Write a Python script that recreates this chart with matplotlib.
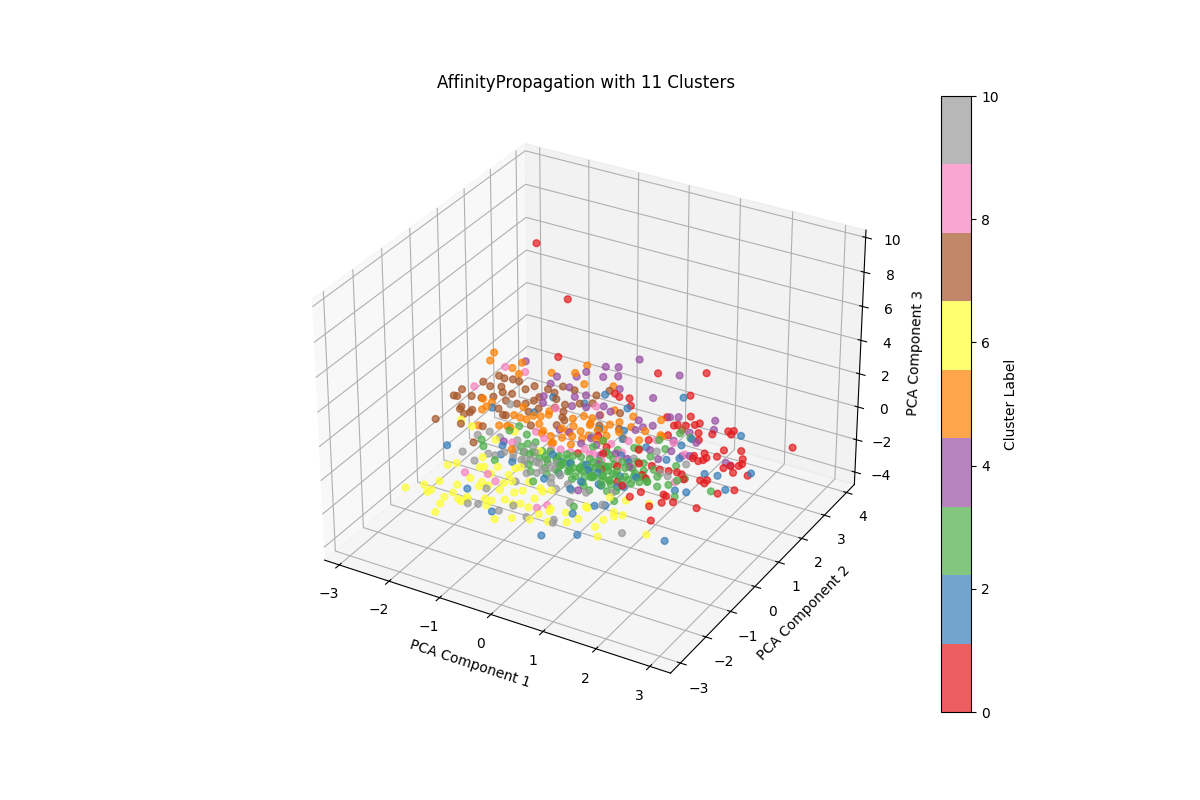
import matplotlib
matplotlib.use("Agg")
import matplotlib.pyplot as plt
import numpy as np

# Each cluster: (PCA 1, PCA 2, PCA 3)
red = [(-1.47,1.26,9.5),(-1.03,1.59,6.2),(-1.98,3.06,.1),(-.06,.05,-.1),(.37,.17,.1),(-.02,.77,0),(.26,.53,-.1),(-.16,3.49,.1),(.55,4.05,0),
(-.22,2.43,-.1),(.71,3.02,.1),(-.49,2.39,0),(-.34,2.26,.1),(-.07,2.18,-.1),(.69,2.09,0),(1.06,2.29,.1),(1.25,2.26,-.1),(.93,1.87,0),(1.0,1.87,.1),
(1.08,2.04,-.1),(1.23,2.1,0),(1.44,1.8,.1),(1.53,1.62,0),(1.8,2.27,-.1),(1.93,2.22,.1),(1.92,2.13,0),(1.61,2.01,-.1),(3.05,2.23,.1),(2.06,1.52,0),
(2.03,1.3,-.1),(2.35,1.61,.1),(2.47,1.41,0),(2.49,1.2,-.1),(2.56,1.18,.1),(2.4,1.06,0),(2.51,.92,-.1),(2.35,.87,.1),(2.79,.91,0),(1.68,1.1,-.1),
(1.85,1.17,.1),(1.92,1.1,0),(1.88,1.05,-.1),(1.75,.9,.1),(1.85,.91,0),(1.69,.39,-.1),(1.84,.26,.1),(1.92,.17,0),(2.15,.35,-.1),(2.3,.31,.1),
(2.28,.24,0),(2.6,.09,-.1),(2.84,.25,.1),(1.5,-.65,0),(1.9,-.49,-.1),(1.89,-.57,.1),(1.96,-.79,0),(1.81,-.97,-.1),(2.14,-.72,.1),(2.54,-.63,0),
(2.05,-1.4,-.1),(1.44,-.96,.1),(.79,1.13,0),(.97,1.54,-.1),(.83,.65,.1),(1.25,-.09,0),(1.33,-.11,-.1),(1.16,-.68,.1),
(.75,-.05,0),(1.05,.2,.1),(.55,-.25,-.1),(1.25,.3,0),(1.45,.2,.1),(1.55,.35,-.1),(1.0,-.55,0)]
blue = [(-2.06,-1.08,.1),(-2.09,.67,0),(-1.41,.99,-.1),(-1.33,1.58,.1),(-.78,1.74,0),(-.65,2.31,-.1),(-.1,.96,.1),(-1.05,-2.21,0),(-.35,-2.63,-.1),
(-.82,-.98,.1),(-1.27,-.49,0),(-1.17,-.74,-.1),(-.08,-1.21,.1),(.02,-.84,0),(-.17,-.41,-.1),(.05,-.47,.1),(.39,-.45,0),(.74,-.75,-.1),(.46,-1.28,.1),
(.86,-1.98,0),(.73,-2.89,-.1),(1.28,-2.64,.1),(1.05,-1.53,0),(1.17,-1.36,-.1),(.64,2.88,.1),(-.05,2.0,0),(2.06,2.24,-.1),(.3,1.14,.1),(.39,.91,0),
(1.33,1.33,-.1),(1.44,1.53,.1),(.87,.86,0),(1.34,.7,-.1),(1.56,.76,.1),(2.14,.55,0),(2.33,.67,-.1),(2.83,.96,.1),(2.68,.23,0),(2.13,-.17,-.1),
(1.99,-.33,.1),(2.57,-1.95,0),(1.06,-.67,-.1),(1.23,-.28,.1),(.63,.35,0),(.8,-.78,-.1),
(.6,-.5,.1),(.95,-.35,0),(.25,-.25,-.1),(-.35,-.35,.1),(.85,.2,0),(1.15,-.6,-.1),(.5,-.95,.1)]
green = [(-1.65,-.56,.1),(-1.54,-.7,0),(-1.16,-.99,-.1),(-1.4,.02,.1),(-1.1,.11,0),(-1.0,-.29,-.1),(-.9,-.24,.1),(-.84,-.06,0),(-.73,-.36,-.1),
(-.56,-.34,.1),(-.47,-.21,0),(-.29,-.23,-.1),(-.15,-.2,.1),(-.06,-.13,0),(.2,-.26,-.1),(.49,-.34,.1),(.6,-.18,0),(-.59,-.8,-.1),(-.49,-.6,.1),
(-.42,-1.06,0),(-.17,-.94,-.1),(-.06,-.65,.1),(.14,-.66,0),(.2,-.39,-.1),(.26,-.13,.1),(-.22,-1.35,0),(.48,-.85,-.1),(.6,-.7,.1),(.73,-1.09,0),
(.74,-1.7,-.1),(-1.33,.26,.1),(.13,.66,0),(.66,-.43,-.1),(-.35,-.57,.1),(-.09,-.45,0),(2.47,.1,-.1),(1.17,1.61,.1),(1.37,1.61,0),(.47,.55,-.1),
(.73,.67,.1),(.78,.75,0),(.34,.37,-.1),(.11,.3,.1),(.53,-.16,0),(.78,-.28,-.1),(.78,.09,.1),(1.01,.03,0),(1.1,-.05,-.1),(1.11,.54,.1),(1.34,.19,0),
(1.2,-.42,-.1),(1.46,-.32,.1),(1.65,-.32,0),(1.76,-.1,-.1),(1.87,.01,.1),(1.93,.2,0),(2.03,-.42,-.1),(.56,-.36,.1),(.87,-.59,0),(1.23,-1.14,-.1),
(.97,1.18,.1),(1.18,.99,0),(1.58,.59,-.1),(.57,-.71,.1),(1.09,.31,0),
(-.3,-.3,-.1),(-.2,-.5,.1),(-.1,-.3,0),(.05,-.5,-.1),(.1,-.15,.1),(.25,-.5,0),(.35,-.3,-.1),(.35,-.6,.1),(.4,-.05,0),(.5,-.55,-.1),(.65,-.2,.1),
(.7,-.5,0),(.8,-.15,-.1),(.9,-.4,.1),(.95,-.7,0),(1.0,-.25,-.1),(1.05,-.5,.1),(1.15,-.2,0),(1.3,-.1,-.1),(1.35,-.4,.1),(1.5,0.0,0),(.9,.15,-.1),
(.6,.1,.1),(.45,.25,0),(.95,.35,-.1),(-.7,-.55,.1),(-.85,-.5,0),(-.3,-.75,-.1),(.0,-.85,.1),(.3,-.9,0),(.55,-.95,-.1),(.85,-.85,.1),(1.0,-.95,0),
(-.5,-.35,-.1),(.15,-.75,.1),
(.02,-.38,0),(.17,-.58,.1),(.42,-.44,-.1),(.58,-.6,0),(.72,-.33,.1),(.83,-.52,-.1),(1.12,-.38,0),(1.26,-.25,.1),(1.4,-.2,-.1),(.68,-.02,0),(.92,-.08,.1),
(1.18,.12,-.1),(.33,-.15,0),(-.05,-.6,.1),(.28,-.72,-.1),(.45,-.72,0),(.78,-.72,.1),(1.1,-.8,-.1)]
purple = [(-2.4,2.57,.1),(-1.67,2.4,0),(-1.4,2.66,-.1),(-1.28,2.81,.1),(-.96,2.86,0),(-1.13,3.31,-.1),(-1.61,2.03,.1),(-1.29,2.15,0),(-1.07,1.93,-.1),
(-.87,1.98,.1),(-1.41,1.34,0),(-.95,1.58,-.1),(-.66,1.57,.1),(-.35,1.48,0),(-1.35,-.29,-.1),(-.48,.55,.1),(-.09,.62,0),(.41,-.11,-.1),(.6,-1.25,.1),
(-1.52,1.58,0),(-.74,3.92,-.1),(-.87,3.31,.1),(-.74,3.03,0),(.15,3.75,-.1),(-.47,2.54,.1),(.16,2.62,0),(-.47,1.89,-.1),(-.22,1.66,.1),(.32,1.7,0),
(.59,1.71,-.1),(.76,2.06,.1),(.86,2.21,0),(1.25,1.84,-.1),(1.49,2.39,.1),(1.59,2.12,0),(1.14,1.41,-.1),(1.56,1.45,.1),(1.3,.98,0),(1.51,.97,-.1),
(1.67,.94,.1),(2.28,1.12,0),(2.36,1.14,-.1),(1.26,.53,.1),(.43,1.34,0),(.47,1.56,-.1),(.96,0.0,.1),
(.1,.45,0),(.3,.2,-.1),(.55,.3,.1),(-.15,.35,0),(.75,.35,-.1),(1.0,.75,.1),(-.7,.6,0)]
orange = [(-3.05,2.56,.1),(-2.99,2.29,0),(-2.54,2.31,-.1),(-2.43,2.48,.1),(-2.3,2.11,0),(-1.85,2.54,-.1),(-1.43,2.66,.1),(-1.41,3.11,0),(-1.15,2.47,-.1),
(-2.36,.83,.1),(-2.19,.85,0),(-2.24,.56,-.1),(-2.17,.6,.1),(-1.63,1.0,0),(-2.01,-.01,-.1),(-1.6,.58,.1),(-1.49,.61,0),(-1.4,.67,-.1),(-1.3,.75,.1),
(-1.21,.86,0),(-1.2,1.18,-.1),(-1.09,.94,.1),(-1.67,.14,0),(-1.57,.26,-.1),(-1.44,.13,.1),(-1.1,.59,0),(-.62,.12,-.1),(-.66,.61,.1),(-.55,.62,0),
(-.72,1.16,-.1),(-.54,1.24,.1),(-.41,1.31,0),(-.39,.81,-.1),(-.32,1.06,.1),(-.22,.53,0),(-.31,.27,-.1),(-1.04,-.58,.1),(-.57,.09,0),(-.67,2.69,-.1),
(.2,1.72,.1),(.65,1.93,0),(.29,1.45,-.1),(.09,1.39,.1),(-.21,1.81,0),(-.37,1.55,-.1),(.62,1.34,.1),(.65,1.03,0),(.86,1.47,-.1),(.96,1.32,.1),(.4,.93,0),
(.07,.91,-.1),(-.01,1.21,.1),
(-.9,.3,0),(-.75,.35,-.1),(-.5,.3,.1),(-.4,.5,0),(-.2,.75,-.1),(-.1,.9,.1),(.0,.65,0),(.1,.7,-.1),(.25,1.05,.1),(-.55,.85,0),(-.95,.45,-.1),(-.3,1.0,.1),(-.05,1.05,0)]
yellow = [(-1.93,-2.82,.1),(-1.74,-2.5,0),(-1.6,-2.64,-.1),(-1.52,-2.64,.1),(-1.58,-2.24,0),(-1.77,-1.6,-.1),(-1.61,-1.56,.1),(-1.12,-3.23,0),(-1.22,-2.88,-.1),
(-1.21,-2.74,.1),(-1.19,-2.47,0),(-1.29,-2.13,-.1),(-.98,-2.67,.1),(-.93,-2.66,0),(-.94,-2.42,-.1),(-1.16,-1.9,.1),(-.87,-2.55,0),(-.98,-1.81,-.1),(-.89,-2.08,.1),
(-.8,-1.91,0),(-.59,-1.88,-.1),(-.59,-1.73,.1),(-1.36,-1.06,0),(-1.26,-1.36,-.1),(-2.03,-.21,.1),(-2.34,-.04,0),(-.99,-1.46,-.1),(-.95,-1.28,.1),(-.63,-2.35,0),
(-.53,-2.3,-.1),(-.47,-2.6,.1),(-.33,-2.19,0),(-.34,-1.83,-.1),(-.19,-1.8,.1),(-.15,-2.25,0),(-.07,-2.12,-.1),(.16,-2.26,.1),(-.16,-2.89,0),(.04,-2.64,-.1),(.37,-2.62,.1),
(.39,-2.32,0),(.05,-1.82,-.1),(.11,-1.63,.1),(.19,-1.46,0),(.44,-1.98,-.1),(.52,-2.18,.1),(.64,-2.46,0),(.72,-1.96,-.1),(.94,-2.36,.1),(1.02,-2.09,0),(.91,-1.58,-.1),
(1.01,-1.72,.1),(1.38,-2.17,0),(1.54,-2.4,-.1),(1.42,-1.93,.1),(-.68,-1.38,0),(-.72,-1.05,-.1),(-.61,-1.07,.1),(-1.47,-.37,0),(-1.36,.14,-.1),(-.6,-.37,.1),(1.42,-1.54,0),
(1.57,-1.5,-.1),(1.52,-1.73,.1),(2.22,-1.93,0),(1.39,-1.01,-.1),(1.16,-1.17,.1),(1.8,-.95,0),
(-.3,-1.35,-.1),(-.5,-1.6,.1),(.0,-1.5,0),(-1.2,-1.3,-.1)]
brown = [(-2.7,-.33,.1),(-2.89,.7,0),(-2.86,.77,-.1),(-2.85,.94,.1),(-2.61,.86,0),(-2.6,.45,-.1),(-2.52,.25,.1),(-2.4,.18,0),(-2.37,.35,-.1),(-2.32,.34,.1),(-2.27,-.18,0),
(-2.73,1.53,-.1),(-2.48,1.33,.1),(-2.43,.9,0),(-2.6,1.9,-.1),(-2.41,1.75,.1),(-2.33,1.48,0),(-2.24,1.36,-.1),(-2.26,1.8,.1),(-2.16,1.85,0),(-2.07,1.4,-.1),(-2.24,1.0,.1),
(-2.01,1.05,0),(-1.82,1.11,-.1),(-1.89,1.58,.1),(-1.84,1.84,0),(-1.6,1.56,-.1),(-1.55,1.81,.1),(-1.42,1.81,0),(-1.43,2.17,-.1),(-1.13,2.04,.1),(-.74,2.14,0),(-1.69,1.2,-.1),
(-1.56,1.27,.1),(-1.98,.7,0),(-1.83,.59,-.1),(-1.72,.49,.1),(-1.9,-.05,0),(-1.78,-.62,-.1),(-1.17,.4,.1),(-.79,.96,0),(-.98,1.3,-.1),(-.82,1.63,.1),(-.82,.72,0),(-.65,2.49,-.1),
(-.63,1.77,.1),(-.08,1.76,0),(-.21,1.19,-.1),(.2,1.15,.1),(1.12,1.8,0),
(-1.5,.95,-.1),(-1.35,1.05,.1),(-1.05,1.5,0),(-.9,1.1,-.1),(-1.25,1.55,.1),(-1.15,1.3,0)]
pink = [(-2.61,2.16,.1),(-2.24,2.24,0),(-2.78,1.28,-.1),(-1.1,1.23,.1),(-.55,1.75,0),(-1.04,.35,-.1),(-1.15,-.35,.1),(-.49,-.14,0),(-.19,.02,-.1),(.18,.03,.1),(-1.36,-1.72,0),
(-1.03,-1.5,-.1),(-.74,-1.76,.1),(.26,-2.14,0),(.34,-1.91,-.1),(.54,.84,.1),(.3,.63,0),(.88,1.26,-.1),(1.23,1.22,.1),(1.55,1.0,0),(1.81,.05,-.1),(.23,.07,.1),
(.0,.2,0),(.4,.05,-.1),(.7,.1,.1),(-.35,-.05,0),(.95,.1,-.1),(-.75,.1,.1),(.6,.45,0)]
gray = [(-1.85,.91,.1),(-1.7,-.16,0),(-1.48,-.19,-.1),(-1.79,-.44,.1),(-1.75,-1.08,0),(-1.45,-1.2,-.1),(-1.31,-.95,.1),(-1.21,-.88,0),(-1.17,-.12,-.1),(-.81,-.53,.1),(-.75,-.77,0),
(-.64,-.62,-.1),(-.41,-.76,.1),(-.2,-.75,0),(-.5,-1.47,-.1),(-.28,-1.1,.1),(-.8,-2.66,0),(-.67,-2.53,-.1),(-.21,-2.64,.1),(-.11,-2.3,0),(.23,-2.47,-.1),(.75,-2.5,.1),(.69,-2.35,0),
(.62,-1.61,-.1),(1.17,-1.47,.1),(-.78,-2.02,0),(.2,-1.31,-.1),(.75,-1.25,.1),(-.8,-.23,0),(-1.06,-.4,-.1),(.09,-1.28,.1),(1.1,-.94,0),(1.83,-2.06,-.1),(1.12,.77,.1),(1.64,.12,0),
(1.7,.74,-.1),(1.51,.09,.1),(.87,.37,0),(-.14,.75,-.1),
(-.6,-.95,.1),(-.5,-.7,0),(-.35,-.55,-.1),(-.25,-.95,.1),(-.1,-.75,0),(-.05,-1.0,-.1),(.1,-.95,.1),(-.9,-.8,0),(-1.0,-.6,-.1),(-.65,-.45,.1),(-.45,-1.15,0),(.3,-1.05,-.1),(-.15,-.6,.1),
(-.7,-.75,0),(.45,-1.2,-.1),(-1.1,-.75,.1)]

clusters = [(0,red),(2,blue),(3,green),(4,purple),(5,orange),(6,yellow),(7,brown),(8,pink),(10,gray)]
pts = np.array([p for _, c in clusters for p in c])
labels = np.array([k for k, c in clusters for _ in c])

title = 'AffinityPropagation with 11 Clusters'
fig = plt.figure(figsize=(12, 8), dpi=100)
ax = fig.add_subplot(111, projection='3d')
sc = ax.scatter(pts[:, 0], pts[:, 1], pts[:, 2], c=labels, cmap='Set1', alpha=0.7, vmin=0, vmax=10, s=24)
ax.set_xlim(-3.3, 3.38)
ax.set_ylim(-3.38, 4.36)
ax.set_zlim(-4.77, 10.42)
ax.set_xlabel('PCA Component 1')
ax.set_ylabel('PCA Component 2')
ax.set_zlabel('PCA Component 3')
ax.set_title(title)
fig.colorbar(sc, ax=ax, label='Cluster Label')
fig.savefig('out.png', dpi=100)
